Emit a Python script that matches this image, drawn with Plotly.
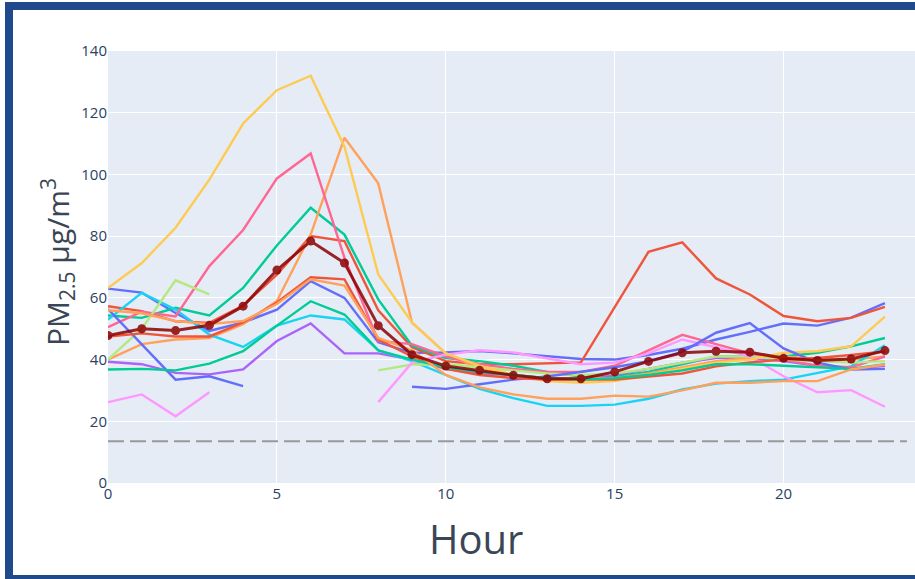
import plotly.graph_objects as go

hours = list(range(24))
N = None

blue_a = [63.0, 61.7, 55.1, 49.3, 52.0, 56.2, 65.4, 60.0, 45.6, 42.2, 42.3, 42.8, 42.0, 41.0, 40.2, 40.0, 41.5, 43.5, 46.5, 49.0, 51.7, 51.0, 53.6, 58.3]
red_a = [57.3, 55.7, 52.4, 51.9, 57.5, 67.5, 80.0, 78.4, 56.0, 44.0, 39.5, 38.5, 38.5, 38.8, 39.1, 57.0, 74.9, 78.0, 66.3, 61.1, 54.1, 52.4, 53.5, 57.1]
green_a = [54.3, 53.5, 56.8, 54.3, 63.2, 77.0, 89.2, 80.5, 59.5, 44.5, 40.5, 39.5, 38.0, 36.0, 34.5, 34.5, 36.0, 38.5, 41.0, 41.0, 41.0, 42.2, 44.3, 47.0]
purple = [39.3, 38.5, 35.7, 35.2, 36.8, 46.0, 51.7, 42.0, 42.0, 40.0, 37.0, 35.5, 35.0, 34.0, 34.0, 35.0, 37.0, 39.0, 40.5, 40.5, 39.5, 38.0, 37.0, 38.0]
orange_a = [40.0, 45.0, 46.5, 47.0, 51.5, 59.0, 80.5, 111.9, 97.1, 52.0, 42.0, 37.0, 35.0, 34.0, 34.0, 34.0, 35.5, 37.5, 39.5, 40.5, 41.0, 40.0, 40.0, 41.0]
cyan = [53.0, 61.6, 56.2, 48.1, 44.1, 51.0, 54.3, 53.0, 43.0, 39.5, 35.0, 30.5, 27.5, 25.0, 25.0, 25.4, 27.3, 30.3, 32.2, 33.0, 33.5, 35.7, 37.8, 44.6]
pink = [50.5, 55.5, 54.0, 70.3, 82.0, 98.7, 106.8, 73.0, 46.0, 45.0, 41.0, 38.5, 37.0, 36.0, 36.0, 38.0, 43.0, 48.0, 45.0, 42.0, 40.0, 38.0, 37.5, 41.0]
lightgreen = [40.0, 50.0, 65.7, 61.1, N, N, N, N, 36.5, 38.4, 38.5, 37.5, 36.5, 35.5, 35.0, 35.5, 37.0, 39.0, 41.0, 41.0, 40.0, 39.5, 39.0, 39.5]
magenta = [26.2, 28.7, 21.6, 29.4, N, N, N, N, 26.2, 39.0, 41.6, 43.0, 42.3, 40.5, 38.5, 39.0, 42.0, 46.5, 44.0, 41.0, 34.6, 29.4, 30.1, 24.7]
yellow = [63.2, 71.3, 82.7, 98.3, 116.5, 127.3, 132.0, 109.0, 67.6, 52.0, 42.0, 38.0, 35.0, 33.0, 32.5, 33.0, 35.0, 37.0, 39.0, 40.0, 42.2, 42.7, 44.3, 53.9]
blue_b = [56.4, 45.0, 33.5, 34.6, 31.4, N, N, N, N, 31.2, 30.5, 32.0, 33.5, 34.5, 36.0, 37.5, 39.5, 42.5, 48.7, 51.8, 43.6, 39.0, 36.8, 37.0]
red_b = [47.5, 48.5, 47.5, 47.5, 52.0, 58.5, 66.7, 66.0, 46.5, 41.0, 37.0, 35.0, 34.0, 33.5, 33.5, 33.5, 34.5, 35.5, 37.8, 39.1, 40.0, 40.5, 41.5, 42.6]
green_b = [36.8, 37.0, 36.5, 38.7, 42.7, 51.0, 58.9, 54.6, 43.0, 40.0, 37.5, 36.0, 35.0, 34.0, 33.5, 34.0, 35.0, 36.5, 38.5, 38.5, 38.0, 37.5, 37.0, 38.5]
orange_b = [56.0, 55.0, 52.5, 51.5, 52.5, 58.0, 66.0, 64.0, 47.0, 43.0, 35.0, 31.0, 28.7, 27.3, 27.3, 28.3, 28.0, 30.0, 32.5, 32.5, 33.0, 33.0, 36.8, 38.4]

mean = [47.8, 50.0, 49.4, 51.1, 57.3, 69.0, 78.4, 71.3, 51.0, 41.6, 37.9, 36.5, 34.9, 33.8, 33.8, 36.0, 39.4, 42.2, 42.7, 42.4, 40.4, 39.7, 40.2, 42.9]

threshold = 13.5

series = [
    (blue_a, "#636EFA"), (red_a, "#EF553B"), (green_a, "#00CC96"), (purple, "#AB63FA"),
    (orange_a, "#FFA15A"), (cyan, "#19D3F3"), (pink, "#FF6692"), (lightgreen, "#B6E880"),
    (magenta, "#FF97FF"), (yellow, "#FECB52"), (blue_b, "#636EFA"), (red_b, "#EF553B"),
    (green_b, "#00CC96"), (orange_b, "#FFA15A"),
]

fig = go.Figure()
for vals, col in series:
    fig.add_trace(go.Scatter(x=hours, y=vals, mode="lines",
                             line=dict(color=col, width=2.4), connectgaps=False,
                             showlegend=False, hoverinfo="skip"))

fig.add_trace(go.Scatter(x=hours, y=mean, mode="lines+markers",
                         line=dict(color="#8B0000", width=3),
                         marker=dict(color="#8B0000", size=9),
                         opacity=0.85, showlegend=False))

fig.add_hline(y=threshold, line=dict(color="#999999", width=2, dash="16px,6px"),
              x0=0, x1=0.99)

W, H = 915, 579
L, R, T, B = 108, 0, 51, 96
pw, ph = W - L - R, H - T - B

def px_x(px):
    return (px - L) / pw

def px_y(py):
    return 1 - (py - T) / ph

fig.add_shape(type="rect", xref="paper", yref="paper",
              x0=px_x(9), x1=px_x(935), y0=px_y(579), y1=px_y(6),
              line=dict(color="#1F4A8C", width=8), fillcolor="rgba(0,0,0,0)", layer="above")

fig.add_annotation(text="Hour", xref="paper", yref="paper",
                   x=px_x(476), y=px_y(538), xanchor="center", yanchor="middle",
                   showarrow=False, font=dict(size=40, color="#3a4656"))
fig.add_annotation(text="PM<sub>2.5</sub> μg/m<sup>3</sup>", xref="paper", yref="paper",
                   x=px_x(57), y=px_y(262), xanchor="center", yanchor="middle", textangle=-90,
                   showarrow=False, font=dict(size=30, color="#3a4656"))

fig.update_layout(
    width=W, height=H,
    margin=dict(l=L, r=R, t=T, b=B, pad=0),
    template="plotly",
    paper_bgcolor="white",
    plot_bgcolor="#E5ECF6",
    font=dict(family="Open Sans, Arial, sans-serif", color="#2a3f5f", size=15),
    showlegend=False,
)
fig.update_xaxes(range=[0, pw / 33.78], dtick=5, tick0=0,
                 tickfont=dict(size=15), showgrid=True, gridcolor="white", zeroline=False)
fig.update_yaxes(range=[0, 140], dtick=20, tick0=0,
                 tickfont=dict(size=15), showgrid=True, gridcolor="white", zeroline=False)

fig.write_html("out.html")
